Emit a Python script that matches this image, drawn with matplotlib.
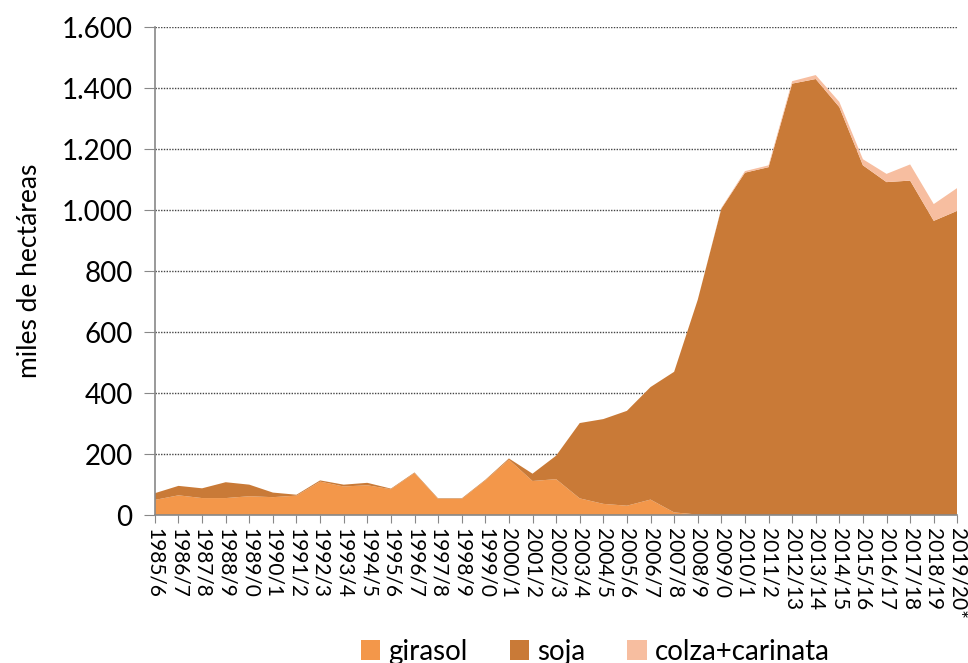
import matplotlib
matplotlib.use("Agg")
import matplotlib.pyplot as plt
from matplotlib.ticker import FuncFormatter, MultipleLocator

plt.rcParams['font.family'] = ['Lato', 'DejaVu Sans']

campanas = ['1985/6', '1986/7', '1987/8', '1988/9', '1989/0', '1990/1', '1991/2',
            '1992/3', '1993/4', '1994/5', '1995/6', '1996/7', '1997/8', '1998/9',
            '1999/0', '2000/1', '2001/2', '2002/3', '2003/4', '2004/5', '2005/6',
            '2006/7', '2007/8', '2008/9', '2009/0', '2010/1', '2011/2', '2012/13',
            '2013/14', '2014/15', '2015/16', '2016/17', '2017/18', '2018/19', '2019/20*']

# miles de hectareas
girasol = [50, 65, 56, 56, 62, 59, 64, 110, 94, 98, 85, 138, 53, 53, 114, 182, 112, 118,
           55, 37, 31, 51, 9, 2, 0, 0, 0, 0, 0, 0, 0, 0, 0, 0, 0]
soja = [22, 31, 32, 52, 38, 15, 3, 4, 6, 8, 2, 2, 2, 2, 2, 4, 24, 77,
        247, 278, 311, 369, 461, 704, 1005, 1123, 1141, 1415, 1430, 1338, 1147, 1092, 1097, 965, 998]
colza = [0, 0, 0, 0, 0, 0, 0, 0, 0, 0, 0, 0, 0, 0, 0, 0, 0, 0,
         0, 0, 0, 0, 0, 0, 2, 5, 6, 8, 13, 17, 20, 27, 53, 55, 75]

colores = ['#F3974A', '#C97A37', '#F7BEA0']
etiquetas = ['girasol', 'soja', 'colza+carinata']

fig = plt.figure(figsize=(9.68, 6.63), dpi=100)
ax = fig.add_axes([0.160, 0.223, 0.829, 0.736])

x = list(range(len(campanas)))
ax.stackplot(x, girasol, soja, colza, colors=colores, labels=etiquetas, zorder=2, lw=0)

ax.set_xlim(0, len(campanas) - 1)
ax.set_ylim(0, 1600)
ax.yaxis.set_major_locator(MultipleLocator(200))
ax.yaxis.set_major_formatter(FuncFormatter(lambda v, p: f"{int(v):,}".replace(",", ".")))
ax.grid(axis='y', linestyle=(0, (1, 1)), color='#444444', lw=1.0, zorder=0)

ax.set_xticks(x)
ax.set_xticklabels(campanas, rotation=-90, fontsize=15, va='top', ha='center')
ax.tick_params(axis='x', length=6, color='#888888', pad=3)
ax.tick_params(axis='y', length=8, color='#888888', labelsize=20, pad=8)

for s in ['top', 'right']:
    ax.spines[s].set_visible(False)
for s in ['left', 'bottom']:
    ax.spines[s].set_color('#888888')
    ax.spines[s].set_linewidth(1.2)

ax.set_ylabel('miles de hectáreas', fontsize=19, labelpad=14)

fig.legend(loc='lower center', bbox_to_anchor=(0.615, -0.04), ncol=3, frameon=False,
           fontsize=20, handlelength=0.7, handleheight=0.7, handletextpad=0.3,
           columnspacing=1.5)

fig.savefig('out.png', dpi=100)
